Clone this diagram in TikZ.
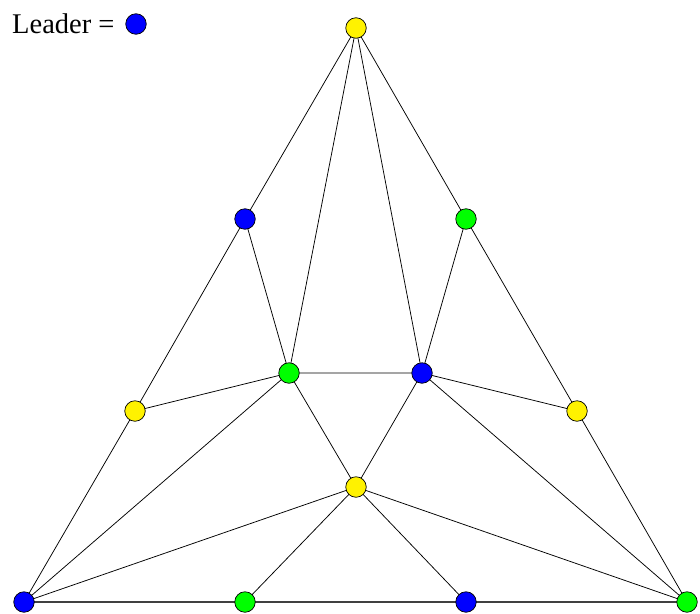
\documentclass[tikz,border=0pt]{standalone}
\usepackage{fontspec}
\setmainfont{Liberation Serif}
\begin{document}
\begin{tikzpicture}[x=1pt,y=-1pt,
  vtx/.style={circle,draw=black,line width=0.7pt,minimum size=20.5pt,inner sep=0pt},
  yel/.style={vtx,fill=yellow},
  blu/.style={vtx,fill=blue},
  grn/.style={vtx,fill=green},
  edge/.style={draw=black,line width=0.75pt},
  base/.style={draw=black!75,line width=1.2pt}]
\useasboundingbox (0,0) rectangle (700,613);
\node[anchor=base west,inner sep=0pt,font=\fontsize{28.5}{30}\selectfont] (leg) at (12,33) {Leader =};
\node[blu] (legc) at (136,24) {};
\coordinate (pT) at (356,28);
\coordinate (pA) at (245,219);
\coordinate (pB) at (466,219);
\coordinate (pC) at (289,373);
\coordinate (pD) at (422,373);
\coordinate (pE) at (135,411);
\coordinate (pF) at (577,411);
\coordinate (pG) at (356,487);
\coordinate (pH) at (24,602);
\coordinate (pI) at (245,602);
\coordinate (pJ) at (466,602);
\coordinate (pK) at (687,602);
\draw[base] (pH) -- (pI) -- (pJ) -- (pK);
\draw[edge] (pT) -- (pA) (pT) -- (pB) (pT) -- (pC) (pT) -- (pD)
  (pA) -- (pE) (pA) -- (pC) (pB) -- (pF) (pB) -- (pD)
  (pE) -- (pH) (pE) -- (pC) (pF) -- (pK) (pF) -- (pD)
  (pC) -- (pD) (pC) -- (pG) (pD) -- (pG)
  (pC) -- (pH) (pD) -- (pK)
  (pG) -- (pH) (pG) -- (pK) (pG) -- (pI) (pG) -- (pJ);
\node[yel] (T) at (pT) {};
\node[blu] (A) at (pA) {};
\node[grn] (B) at (pB) {};
\node[grn] (C) at (pC) {};
\node[blu] (D) at (pD) {};
\node[yel] (E) at (pE) {};
\node[yel] (F) at (pF) {};
\node[yel] (G) at (pG) {};
\node[blu] (H) at (pH) {};
\node[grn] (I) at (pI) {};
\node[blu] (J) at (pJ) {};
\node[grn] (K) at (pK) {};
\end{tikzpicture}
\end{document}
